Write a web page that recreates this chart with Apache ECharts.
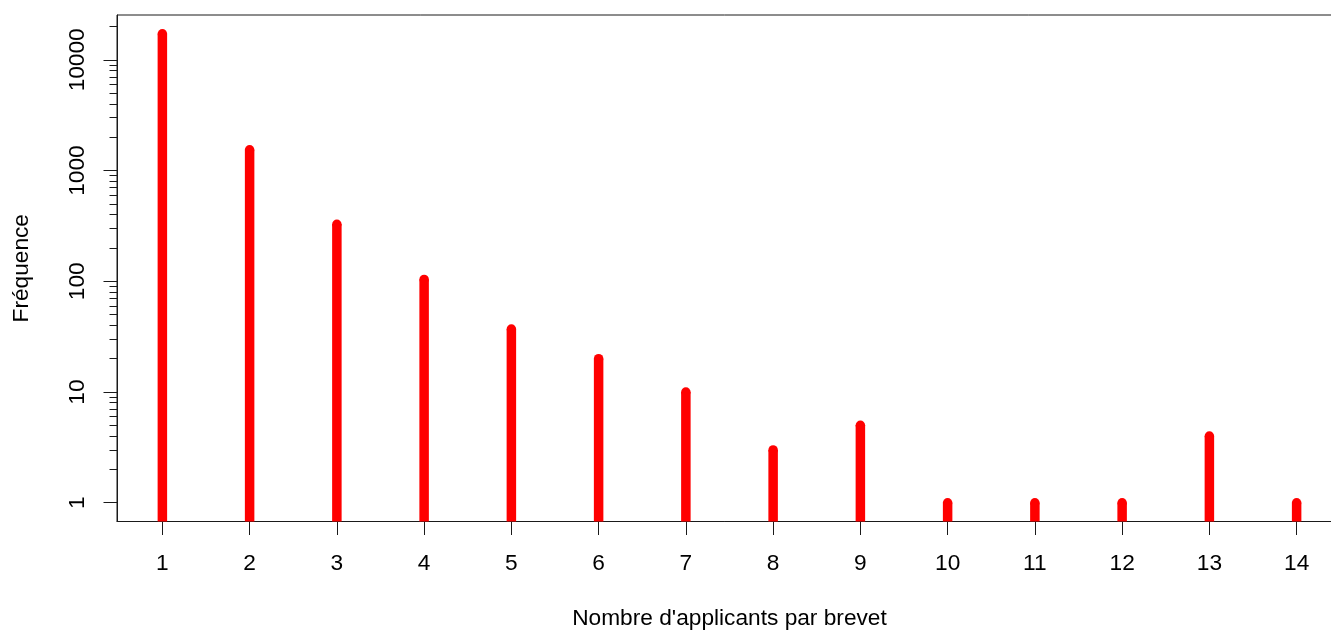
<!DOCTYPE html>
<html>
<head>
<meta charset="utf-8">
<script src="https://cdn.jsdelivr.net/npm/echarts@6/dist/echarts.min.js"></script>
<style>
  html, body { margin: 0; padding: 0; background: #ffffff; }
  #chart { width: 1331px; height: 630px; }
</style>
</head>
<body>
<div id="chart"></div>
<script>
// Number of applicants per patent and how often each count occurs
const applicantCounts = [1, 2, 3, 4, 5, 6, 7, 8, 9, 10, 11, 12, 13, 14];
const frequencies = [17200, 1540, 327, 104, 37, 20, 10, 3, 5, 1, 1, 1, 4, 1];

// Axis ticks
const xTicks = [1, 2, 3, 4, 5, 6, 7, 8, 9, 10, 11, 12, 13, 14];
const yMajorTicks = [1, 10, 100, 1000, 10000];
const yMinorTicks = [
  2, 3, 4, 5, 6, 7, 8, 9,
  20, 30, 40, 50, 60, 70, 80, 90,
  200, 300, 400, 500, 600, 700, 800, 900,
  2000, 3000, 4000, 5000, 6000, 7000, 8000, 9000,
  20000
];

const X_MIN = 0.48, X_MAX = 14.52;
const Y_MIN = 0.677, Y_MAX = 25400;
const RED = '#ff0000';
const INK = '#1a1a1a';
const FONT = '"Liberation Sans", Arial, sans-serif';
const FONT_SIZE = 22.7;
const STEM_WIDTH = 9.5;

const chart = echarts.init(document.getElementById('chart'), null, { renderer: 'canvas' });

const logAxisBase = {
  type: 'log',
  logBase: 10,
  min: Y_MIN,
  max: Y_MAX,
  position: 'left',
  splitLine: { show: false },
  minorTick: { show: false },
  minorSplitLine: { show: false }
};

chart.setOption({
  animation: false,
  backgroundColor: '#ffffff',
  grid: {
    left: 117,
    top: 15,
    width: 1225,
    height: 506.5,
    containLabel: false,
    outerBoundsMode: 'none',
    show: true,
    borderColor: INK,
    borderWidth: 1,
    backgroundColor: 'transparent'
  },
  xAxis: {
    type: 'value',
    min: X_MIN,
    max: X_MAX,
    name: "Nombre d'applicants par brevet",
    nameLocation: 'middle',
    nameGap: 86,
    nameTextStyle: { color: '#000', fontFamily: FONT, fontSize: FONT_SIZE, lineHeight: 22 },
    axisLine: { show: true, onZero: false, lineStyle: { color: INK, width: 1 } },
    axisTick: { show: true, length: 13.5, customValues: xTicks, lineStyle: { color: INK, width: 1 } },
    axisLabel: {
      customValues: xTicks,
      margin: 31,
      color: '#000',
      fontFamily: FONT,
      fontSize: FONT_SIZE,
      lineHeight: 22
    },
    splitLine: { show: false }
  },
  yAxis: [
    Object.assign({}, logAxisBase, {
      name: 'Fréquence',
      nameLocation: 'middle',
      nameGap: 84,
      nameTextStyle: { color: '#000', fontFamily: FONT, fontSize: FONT_SIZE, lineHeight: 22 },
      axisLine: { show: true, lineStyle: { color: INK, width: 1 } },
      axisTick: { show: true, length: 13.5, customValues: yMajorTicks, lineStyle: { color: INK, width: 1 } },
      axisLabel: {
        customValues: yMajorTicks,
        rotate: 90,
        margin: 28,
        color: '#000',
        fontFamily: FONT,
        fontSize: FONT_SIZE,
        lineHeight: 22,
        formatter: (v) => String(Math.round(v))
      }
    }),
    Object.assign({}, logAxisBase, {
      axisLine: { show: false },
      axisTick: { show: true, length: 7.5, customValues: yMinorTicks, lineStyle: { color: INK, width: 1 } },
      axisLabel: { show: false }
    })
  ],
  series: [
    {
      type: 'custom',
      xAxisIndex: 0,
      yAxisIndex: 0,
      data: applicantCounts.map((c, i) => [c, frequencies[i]]),
      renderItem: function (params, api) {
        const x = api.value(0);
        const v = api.value(1);
        const top = api.coord([x, v]);
        const base = api.coord([x, Y_MIN]);
        const half = STEM_WIDTH / 2;
        return {
          type: 'group',
          children: [
            {
              type: 'rect',
              shape: { x: top[0] - half, y: top[1], width: STEM_WIDTH, height: base[1] - top[1] },
              style: { fill: RED }
            },
            {
              type: 'circle',
              shape: { cx: top[0], cy: top[1], r: half },
              style: { fill: RED }
            }
          ]
        };
      }
    }
  ]
});
</script>
</body>
</html>
